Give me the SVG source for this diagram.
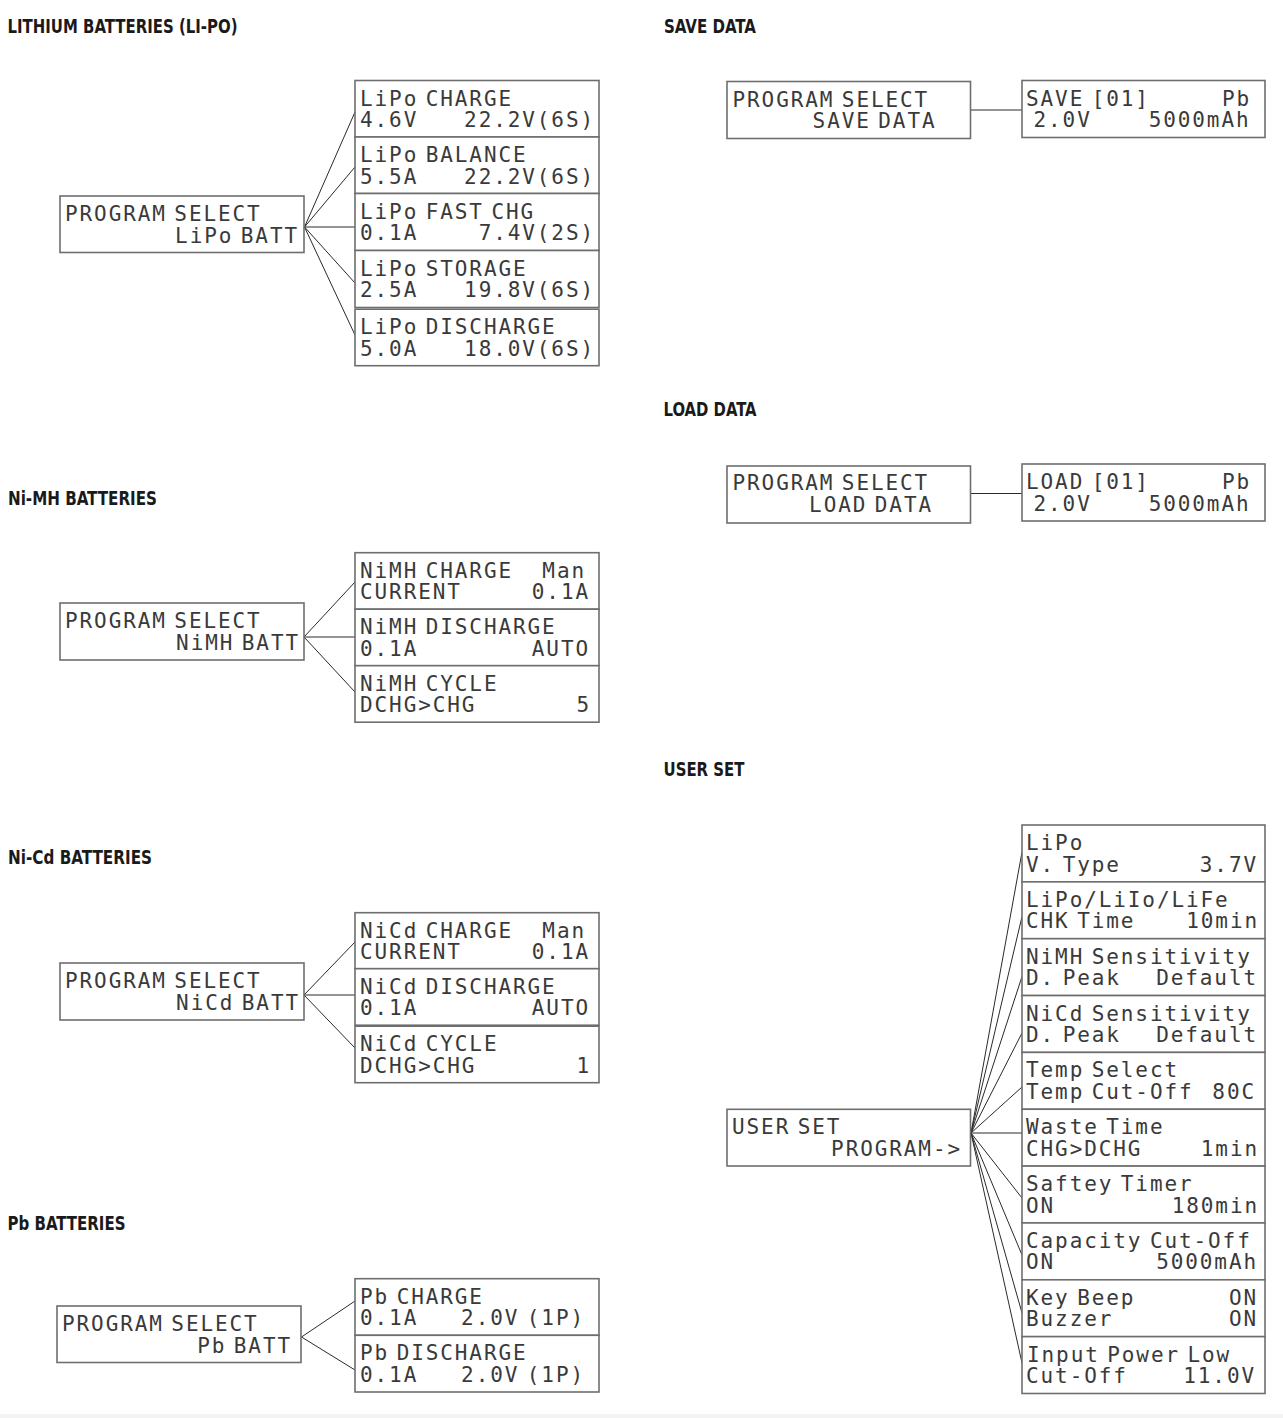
<svg xmlns="http://www.w3.org/2000/svg" width="1283" height="1418" viewBox="0 0 1283 1418">
<style>
.box{fill:#fff;stroke:#6e6e6e;stroke-width:1.6}
.lcd{font-family:"DejaVu Sans Mono","Liberation Mono",monospace;font-size:21px;fill:#3a3a3a;letter-spacing:1.9px;word-spacing:-7px}
.r{text-anchor:end}
.h{font-family:"Liberation Sans Narrow","DejaVu Sans Condensed","Liberation Sans",sans-serif;font-weight:bold;font-size:19.5px;fill:#1a1a1a}
.conn line{stroke:#2a2a2a;stroke-width:1}
</style>
<rect x="0" y="0" width="1283" height="1418" fill="#fff"/>
<rect x="0" y="1414" width="1283" height="4" fill="#f3f3f3"/>

<!-- Headings -->
<g id="headings">
<text class="h" x="7.5" y="32.5" textLength="230" lengthAdjust="spacingAndGlyphs">LITHIUM BATTERIES (LI-PO)</text>
<text class="h" x="664" y="32.5" textLength="92" lengthAdjust="spacingAndGlyphs">SAVE DATA</text>
<text class="h" x="663.5" y="415.5" textLength="93" lengthAdjust="spacingAndGlyphs">LOAD DATA</text>
<text class="h" x="8" y="504.5" textLength="149" lengthAdjust="spacingAndGlyphs">Ni-MH BATTERIES</text>
<text class="h" x="663.5" y="775.5" textLength="81" lengthAdjust="spacingAndGlyphs">USER SET</text>
<text class="h" x="8" y="863.5" textLength="144" lengthAdjust="spacingAndGlyphs">Ni-Cd BATTERIES</text>
<text class="h" x="7.5" y="1229.5" textLength="118" lengthAdjust="spacingAndGlyphs">Pb BATTERIES</text>
</g>

<!-- Connectors -->
<g id="connectors" class="conn">
<line x1="304.5" y1="227" x2="355" y2="112"/>
<line x1="304.5" y1="227" x2="355" y2="167"/>
<line x1="304.5" y1="227" x2="355" y2="227"/>
<line x1="304.5" y1="227" x2="355" y2="283"/>
<line x1="304.5" y1="227" x2="355" y2="335"/>

<line x1="304" y1="637" x2="355" y2="582"/>
<line x1="304" y1="637" x2="355" y2="637"/>
<line x1="304" y1="637" x2="355" y2="692"/>

<line x1="304" y1="995" x2="355" y2="942"/>
<line x1="304" y1="995" x2="355" y2="995"/>
<line x1="304" y1="995" x2="355" y2="1048"/>

<line x1="301.5" y1="1337" x2="355" y2="1301"/>
<line x1="301.5" y1="1337" x2="355" y2="1370"/>

<line x1="970.5" y1="110" x2="1022" y2="110"/>
<line x1="970.5" y1="493.5" x2="1022" y2="493.5"/>

<line x1="971" y1="1133" x2="1022" y2="852"/>
<line x1="971" y1="1133" x2="1022" y2="916.5"/>
<line x1="971" y1="1133" x2="1022" y2="976.5"/>
<line x1="971" y1="1133" x2="1022" y2="1033"/>
<line x1="971" y1="1133" x2="1022" y2="1087"/>
<line x1="971" y1="1133" x2="1022" y2="1133"/>
<line x1="971" y1="1133" x2="1022" y2="1198"/>
<line x1="971" y1="1133" x2="1022" y2="1255"/>
<line x1="971" y1="1133" x2="1022" y2="1313"/>
<line x1="971" y1="1133" x2="1022" y2="1363"/>
</g>

<!-- LiPo section -->
<g id="lipo-main"><rect class="box" x="60" y="196" width="244" height="56.5"/>
<text class="lcd" x="65" y="221">PROGRAM SELECT</text><text class="lcd r" x="299" y="242.5">LiPo BATT</text></g>
<g id="lipo-charge"><rect class="box" x="355" y="80.5" width="244" height="56.5"/>
<text class="lcd" x="360" y="105.5">LiPo CHARGE</text><text class="lcd" x="360" y="127">4.6V</text><text class="lcd r" x="595" y="127">22.2V(6S)</text></g>
<g id="lipo-balance"><rect class="box" x="355" y="137" width="244" height="56.5"/>
<text class="lcd" x="360" y="162">LiPo BALANCE</text><text class="lcd" x="360" y="183.5">5.5A</text><text class="lcd r" x="595" y="183.5">22.2V(6S)</text></g>
<g id="lipo-fast"><rect class="box" x="355" y="193.5" width="244" height="57"/>
<text class="lcd" x="360" y="218.5">LiPo FAST CHG</text><text class="lcd" x="360" y="240">0.1A</text><text class="lcd r" x="595" y="240">7.4V(2S)</text></g>
<g id="lipo-storage"><rect class="box" x="355" y="250.5" width="244" height="57"/>
<text class="lcd" x="360" y="275.5">LiPo STORAGE</text><text class="lcd" x="360" y="297">2.5A</text><text class="lcd r" x="595" y="297">19.8V(6S)</text></g>
<g id="lipo-discharge"><rect class="box" x="355" y="309.2" width="244" height="56.5"/>
<text class="lcd" x="360" y="334.2">LiPo DISCHARGE</text><text class="lcd" x="360" y="355.7">5.0A</text><text class="lcd r" x="595" y="355.7">18.0V(6S)</text></g>

<!-- NiMH section -->
<g id="nimh-main"><rect class="box" x="60" y="603" width="244" height="57"/>
<text class="lcd" x="65" y="628">PROGRAM SELECT</text><text class="lcd r" x="300" y="649.5">NiMH BATT</text></g>
<g id="nimh-charge"><rect class="box" x="355" y="552.7" width="244" height="56.5"/>
<text class="lcd" x="360" y="577.7">NiMH CHARGE</text><text class="lcd r" x="586" y="577.7">Man</text><text class="lcd" x="360" y="599.2">CURRENT</text><text class="lcd r" x="590" y="599.2">0.1A</text></g>
<g id="nimh-discharge"><rect class="box" x="355" y="609.2" width="244" height="56.5"/>
<text class="lcd" x="360" y="634.2">NiMH DISCHARGE</text><text class="lcd" x="360" y="655.7">0.1A</text><text class="lcd r" x="590" y="655.7">AUTO</text></g>
<g id="nimh-cycle"><rect class="box" x="355" y="665.7" width="244" height="56.5"/>
<text class="lcd" x="360" y="690.7">NiMH CYCLE</text><text class="lcd" x="360" y="712.2">DCHG&gt;CHG</text><text class="lcd r" x="591" y="712.2">5</text></g>

<!-- NiCd section -->
<g id="nicd-main"><rect class="box" x="60" y="963" width="244" height="57"/>
<text class="lcd" x="65" y="988">PROGRAM SELECT</text><text class="lcd r" x="300" y="1009.5">NiCd BATT</text></g>
<g id="nicd-charge"><rect class="box" x="355" y="912.7" width="244" height="56"/>
<text class="lcd" x="360" y="937.7">NiCd CHARGE</text><text class="lcd r" x="586" y="937.7">Man</text><text class="lcd" x="360" y="959.2">CURRENT</text><text class="lcd r" x="590" y="959.2">0.1A</text></g>
<g id="nicd-discharge"><rect class="box" x="355" y="968.7" width="244" height="56.5"/>
<text class="lcd" x="360" y="993.7">NiCd DISCHARGE</text><text class="lcd" x="360" y="1015.2">0.1A</text><text class="lcd r" x="590" y="1015.2">AUTO</text></g>
<g id="nicd-cycle"><rect class="box" x="355" y="1026.2" width="244" height="56.5"/>
<text class="lcd" x="360" y="1051.2">NiCd CYCLE</text><text class="lcd" x="360" y="1072.7">DCHG&gt;CHG</text><text class="lcd r" x="591" y="1072.7">1</text></g>

<!-- Pb section -->
<g id="pb-main"><rect class="box" x="57" y="1306" width="244" height="56.5"/>
<text class="lcd" x="62" y="1331">PROGRAM SELECT</text><text class="lcd r" x="292" y="1352.5">Pb BATT</text></g>
<g id="pb-charge"><rect class="box" x="355" y="1278.7" width="244" height="56.6"/>
<text class="lcd" x="360" y="1303.7">Pb CHARGE</text><text class="lcd" x="360" y="1325.2">0.1A</text><text class="lcd r" x="585" y="1325.2">2.0V (1P)</text></g>
<g id="pb-discharge"><rect class="box" x="355" y="1335.3" width="244" height="56.7"/>
<text class="lcd" x="360" y="1360.3">Pb DISCHARGE</text><text class="lcd" x="360" y="1381.8">0.1A</text><text class="lcd r" x="585" y="1381.8">2.0V (1P)</text></g>

<!-- Save data -->
<g id="save-main"><rect class="box" x="727" y="81.5" width="243.5" height="57"/>
<text class="lcd" x="732.5" y="106.5">PROGRAM SELECT</text><text class="lcd r" x="936.5" y="128">SAVE DATA</text></g>
<g id="save-slot"><rect class="box" x="1022" y="80.5" width="243" height="57"/>
<text class="lcd" x="1026" y="105.5">SAVE [01]</text><text class="lcd r" x="1251" y="105.5">Pb</text><text class="lcd" x="1033.5" y="127">2.0V</text><text class="lcd r" x="1250.5" y="127">5000mAh</text></g>

<!-- Load data -->
<g id="load-main"><rect class="box" x="727" y="466" width="243.5" height="57"/>
<text class="lcd" x="732.5" y="490">PROGRAM SELECT</text><text class="lcd r" x="933" y="511.5">LOAD DATA</text></g>
<g id="load-slot"><rect class="box" x="1022" y="464" width="243" height="57"/>
<text class="lcd" x="1026" y="489">LOAD [01]</text><text class="lcd r" x="1251" y="489">Pb</text><text class="lcd" x="1033.5" y="510.5">2.0V</text><text class="lcd r" x="1250.5" y="510.5">5000mAh</text></g>

<!-- User set -->
<g id="user-main"><rect class="box" x="727" y="1109.3" width="243.5" height="56.7"/>
<text class="lcd" x="732" y="1134">USER SET</text><text class="lcd r" x="962" y="1155.5">PROGRAM-&gt;</text></g>
<g id="user-vtype"><rect class="box" x="1022" y="825" width="243" height="56.85"/>
<text class="lcd" x="1026" y="850">LiPo</text><text class="lcd" x="1026" y="871.5">V. Type</text><text class="lcd r" x="1258" y="871.5">3.7V</text></g>
<g id="user-chktime"><rect class="box" x="1022" y="881.85" width="243" height="56.85"/>
<text class="lcd" x="1026" y="906.85">LiPo/LiIo/LiFe</text><text class="lcd" x="1026" y="928.35">CHK Time</text><text class="lcd r" x="1259" y="928.35">10min</text></g>
<g id="user-nimh"><rect class="box" x="1022" y="938.7" width="243" height="56.85"/>
<text class="lcd" x="1026" y="963.7">NiMH Sensitivity</text><text class="lcd" x="1026" y="985.2">D. Peak</text><text class="lcd r" x="1258" y="985.2">Default</text></g>
<g id="user-nicd"><rect class="box" x="1022" y="995.55" width="243" height="56.85"/>
<text class="lcd" x="1026" y="1020.55">NiCd Sensitivity</text><text class="lcd" x="1026" y="1042.05">D. Peak</text><text class="lcd r" x="1258" y="1042.05">Default</text></g>
<g id="user-temp"><rect class="box" x="1022" y="1052.4" width="243" height="56.85"/>
<text class="lcd" x="1026" y="1077.4">Temp Select</text><text class="lcd" x="1026" y="1098.9">Temp Cut-Off</text><text class="lcd r" x="1256" y="1098.9">80C</text></g>
<g id="user-waste"><rect class="box" x="1022" y="1109.25" width="243" height="56.85"/>
<text class="lcd" x="1026" y="1134.25">Waste Time</text><text class="lcd" x="1026" y="1155.75">CHG&gt;DCHG</text><text class="lcd r" x="1259" y="1155.75">1min</text></g>
<g id="user-safety"><rect class="box" x="1022" y="1166.1" width="243" height="56.85"/>
<text class="lcd" x="1026" y="1191.1">Saftey Timer</text><text class="lcd" x="1026" y="1212.6">ON</text><text class="lcd r" x="1259" y="1212.6">180min</text></g>
<g id="user-capacity"><rect class="box" x="1022" y="1222.95" width="243" height="56.85"/>
<text class="lcd" x="1026" y="1247.95">Capacity Cut-Off</text><text class="lcd" x="1026" y="1269.45">ON</text><text class="lcd r" x="1258" y="1269.45">5000mAh</text></g>
<g id="user-beep"><rect class="box" x="1022" y="1279.8" width="243" height="56.85"/>
<text class="lcd" x="1026" y="1304.8">Key Beep</text><text class="lcd r" x="1258" y="1304.8">ON</text><text class="lcd" x="1026" y="1326.3">Buzzer</text><text class="lcd r" x="1258" y="1326.3">ON</text></g>
<g id="user-input"><rect class="box" x="1022" y="1336.65" width="243" height="56.85"/>
<text class="lcd" x="1027" y="1361.65">Input Power Low</text><text class="lcd" x="1026" y="1383.15">Cut-Off</text><text class="lcd r" x="1256" y="1383.15">11.0V</text></g>
</svg>
